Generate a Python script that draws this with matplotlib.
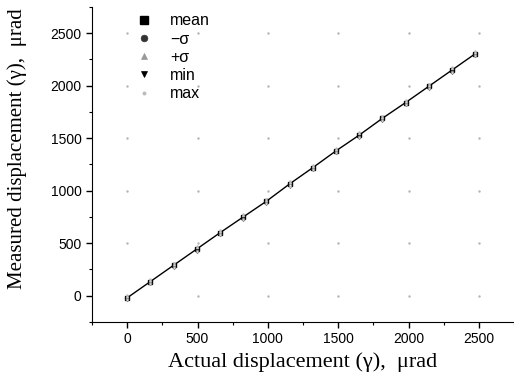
import matplotlib.pyplot as plt
import numpy as np

actual = [0, 165, 330, 495, 660, 825, 990, 1155, 1320, 1485, 1650, 1815, 1980, 2145, 2310, 2475]
mean = [-20, 135, 290, 445, 600, 750, 900, 1065, 1220, 1380, 1530, 1690, 1840, 1995, 2150, 2305]
minus_sigma = [-35, 120, 275, 430, 585, 735, 885, 1050, 1205, 1365, 1515, 1675, 1825, 1980, 2135, 2290]
plus_sigma = [-5, 150, 305, 460, 615, 765, 915, 1080, 1235, 1395, 1545, 1705, 1855, 2010, 2165, 2320]
min_vals = [-45, 110, 265, 420, 575, 725, 875, 1040, 1195, 1355, 1505, 1665, 1815, 1970, 2125, 2280]
max_vals = [5, 160, 315, 470, 625, 775, 925, 1090, 1245, 1405, 1555, 1715, 1865, 2020, 2175, 2330]

xticks = [0, 500, 1000, 1500, 2000, 2500]
yticks = [0, 500, 1000, 1500, 2000, 2500]

fig = plt.figure(figsize=(5.14, 3.87), dpi=100)
ax = fig.add_axes([0.179, 0.168, 0.821, 0.814])

# faint grid dots at major intersections
gx, gy = np.meshgrid(xticks, yticks)
ax.plot(gx.ravel(), gy.ravel(), ls='none', marker='.', ms=1.5, color='#b5b5b5')

ax.plot(actual, mean, '-s', color='black', lw=1.0, ms=2.5, label='mean')
ax.plot(actual, minus_sigma, 'o', color='#666666', ms=2, mfc='white', mew=0.5, label='−σ')
ax.plot(actual, plus_sigma, '^', color='#aaaaaa', ms=2, mfc='white', mew=0.5, label='+σ')
ax.plot(actual, min_vals, 'v', color='#888888', ms=2, mfc='white', mew=0.5, label='min')
ax.plot(actual, max_vals, '.', color='#bbbbbb', ms=1.5, label='max')

ax.set_xlim(-250, 2750)
ax.set_ylim(-250, 2750)
ax.set_xticks(xticks)
ax.set_yticks(yticks)
ax.set_xticks(np.arange(-250, 2751, 250), minor=True)
ax.set_yticks(np.arange(-250, 2751, 250), minor=True)
for s in ['top', 'right']:
    ax.spines[s].set_visible(False)
ax.tick_params(which='major', direction='out', length=4, width=1, labelsize=10)
ax.tick_params(which='minor', direction='out', length=2, width=0.8)
for lab in ax.get_xticklabels() + ax.get_yticklabels():
    lab.set_family('Liberation Sans')

ax.set_xlabel('Actual displacement (γ),  μrad', family='Liberation Serif', fontsize=16)
ax.set_ylabel('Measured displacement (γ),  μrad', family='Liberation Serif', fontsize=15)
ax.xaxis.set_label_coords(0.5, -0.095)
ax.yaxis.set_label_coords(-0.154, 0.55)

leg = ax.legend(loc='upper left', bbox_to_anchor=(0.075, 1.025), frameon=False,
                prop={'family': 'Liberation Sans', 'size': 11.5}, handlelength=0.8,
                handletextpad=1.2, labelspacing=0.2, markerscale=2.4)
handle_colors = ['black', '#333333', '#999999', 'black', '#bbbbbb']
for h, c in zip(leg.legend_handles, handle_colors):
    h.set_linestyle('none')
    h.set_color(c)
    h.set_markerfacecolor(c)

fig.savefig('out.png', dpi=100)
